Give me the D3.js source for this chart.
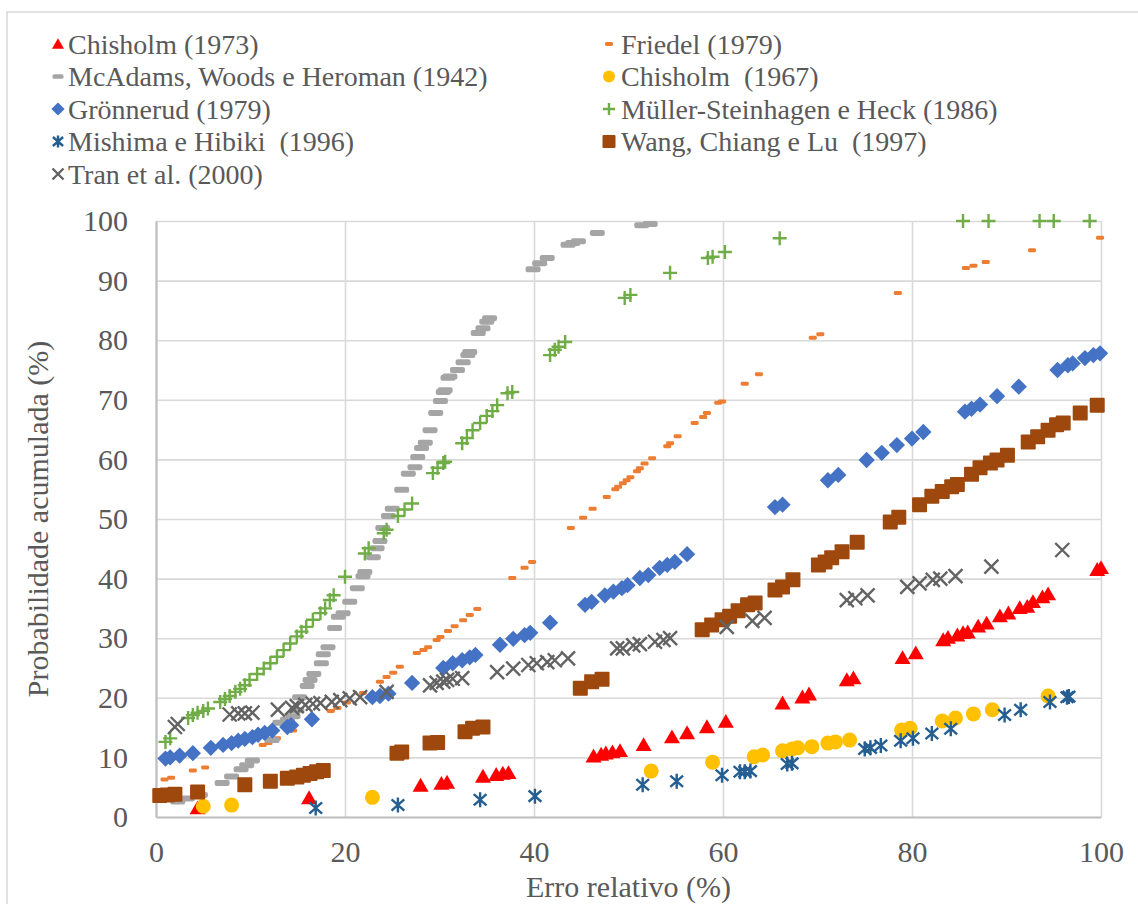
<!DOCTYPE html>
<html>
<head>
<meta charset="utf-8">
<script src="https://cdn.jsdelivr.net/npm/d3@7"></script>
<style>
  body { margin: 0; background: #fff; }
  svg text { font-family: "Liberation Serif", "Times New Roman", serif; fill: #595959; white-space: pre; }
</style>
</head>
<body>
<div id="chart"></div>
<script>
// data: [erro relativo %, probabilidade acumulada %]
const chisholm1973 = [[4.4,1.5],[16.2,3.2],[28.0,5.3],[30.2,5.6],[30.8,5.8],[34.6,6.8],[36.0,7.1],[36.7,7.3],[37.3,7.4],
  [46.3,10.2],[47.1,10.5],[47.6,10.7],[48.3,10.9],[49.1,11.1],[51.6,12.1],[54.6,13.4],[56.2,14.1],[58.3,15.1],[60.3,16.0],
  [66.3,19.1],[68.4,20.1],[69.1,20.6],[73.1,23.0],[73.8,23.3],[79.0,26.7],[80.4,27.5],[83.3,29.7],[83.8,30.1],[84.8,30.5],
  [85.4,30.9],[85.9,31.0],[87.0,32.0],[87.9,32.5],[89.3,33.7],[90.2,34.2],[91.4,35.1],[92.2,35.3],[92.8,36.1],[93.8,36.9],
  [94.4,37.4],[99.6,41.5],[100,41.8]];

const friedel1979 = [[0.9,6.3],[1.6,6.6],[3.9,7.8],[5.2,8.3],[11.3,12.1],[11.9,12.4],[12.8,13.2],[14.5,14.5],[18.5,17.8],
  [19.2,18.3],[20.2,19.2],[21.9,20.8],[23.7,22.7],[24.4,23.5],[25.1,24.2],[25.8,25.2],[27.6,27.5],[28.3,28.0],[28.8,28.5],
  [29.7,29.7],[30.1,30.2],[30.9,31.2],[31.6,32.0],[32.5,33.0],[33.2,33.9],[34.0,34.9],[37.7,40.1],[39.0,41.8],[39.8,42.8],
  [43.9,48.5],[45.2,50.2],[46.2,51.7],[47.7,53.7],[48.6,55.0],[48.9,55.4],[49.4,56.0],[49.8,56.5],[50.2,57.0],[50.9,58.0],
  [51.2,58.5],[51.7,59.3],[52.5,60.2],[54.1,62.2],[54.4,62.7],[55.2,63.9],[57.0,66.1],[57.9,67.1],[58.3,67.8],[59.5,69.5],
  [59.9,69.7],[62.3,72.7],[63.8,74.3],[69.5,80.4],[70.3,81.0],[78.5,87.9],[85.7,92.1],[86.5,92.5],[87.8,93.1],[92.7,95.1],
  [99.9,97.2]];

const mcAdams1942 = [[2.3,2.6],[3.3,3.1],[4.7,3.7],[7.0,5.7],[8.0,6.8],[9.0,8.0],[9.6,8.7],[10.2,9.5],[12.3,12.9],[13.1,15.8],
  [13.9,16.3],[14.5,16.9],[14.9,17.9],[15.2,20.1],[16.0,22.0],[16.3,23.0],[16.7,24.0],[17.5,25.8],[17.7,27.3],[18.2,28.5],
  [18.9,31.7],[19.3,33.6],[19.8,34.2],[20.5,36.1],[21.3,38.4],[21.9,40.4],[22.1,41.1],[23.0,43.6],[23.4,45.1],[23.7,46.3],
  [24.0,48.5],[24.6,50.5],[25.0,51.7],[26.0,54.9],[26.7,57.6],[27.4,58.7],[27.7,60.4],[28.1,61.9],[28.5,62.8],[29.0,64.9],
  [29.6,67.8],[30.1,69.8],[30.4,71.3],[30.6,71.6],[30.9,73.7],[31.1,73.9],[31.9,75.0],[32.5,76.3],[33.0,77.5],[33.2,78.0],
  [34.1,81.2],[34.6,82.0],[35.0,83.1],[35.3,83.7],[39.9,91.9],[40.6,92.9],[41.4,93.8],[43.6,96.0],[44.1,96.3],[44.7,96.6],
  [46.7,98.0],[51.4,99.3],[52.3,99.5]];

const chisholm1967 = [[5.0,1.8],[8.0,2.0],[22.9,3.3],[52.4,7.7],[58.9,9.2],[63.3,10.1],[64.2,10.4],[66.3,11.1],[67.3,11.4],
  [67.9,11.6],[69.4,11.8],[71.1,12.4],[71.9,12.6],[73.4,12.9],[78.9,14.6],[79.8,14.9],[83.2,16.1],[84.6,16.6],[86.5,17.3],
  [88.5,18.0],[94.4,20.3]];

const gronnerud1979 = [[1.0,9.8],[1.5,10.0],[2.5,10.3],[3.9,10.7],[5.8,11.6],[7.1,12.1],[8.0,12.4],[8.7,12.8],[9.4,13.1],
  [10.2,13.4],[10.8,13.8],[11.5,14.1],[12.3,14.5],[13.9,15.1],[14.3,15.4],[16.5,16.4],[22.9,20.1],[23.7,20.3],[24.6,20.7],
  [27.1,22.5],[30.4,25.0],[31.4,25.8],[32.4,26.3],[33.2,26.8],[33.8,27.2],[36.4,28.9],[37.8,29.9],[39.0,30.5],[39.6,30.9],
  [41.7,32.6],[45.4,35.6],[46.1,36.1],[47.5,37.2],[48.4,37.8],[49.3,38.4],[49.9,38.9],[51.2,40.1],[52.1,40.6],[53.3,41.8],
  [54.1,42.3],[54.9,42.8],[56.2,44.1],[65.5,52.0],[66.3,52.4],[71.1,56.5],[72.2,57.4],[75.2,59.9],[76.8,61.1],[78.4,62.4],
  [80.0,63.5],[81.2,64.6],[85.6,68.0],[86.3,68.5],[87.2,69.2],[89.0,70.6],[91.3,72.2],[95.4,75.0],[96.5,75.8],[97.0,76.1],
  [98.3,77.0],[99.2,77.5],[99.9,77.8]];

const mullerSteinhagen1986 = [[1.0,12.6],[1.5,13.2],[3.4,16.6],[3.9,17.1],[4.4,17.5],[5.0,17.8],[5.5,18.2],[6.8,19.3],
  [7.3,19.8],[7.8,20.3],[8.4,21.0],[8.9,21.5],[9.4,22.1],[9.9,23.0],[10.7,24.0],[11.4,24.9],[12.1,25.8],[12.8,26.9],
  [13.5,28.0],[14.2,29.1],[14.9,30.3],[15.4,31.1],[15.9,31.9],[16.6,33.1],[17.4,34.2],[17.9,35.0],[18.4,36.4],[18.8,37.2],
  [20.0,40.3],[22.1,44.2],[22.5,45.1],[24.1,47.6],[24.4,48.2],[25.6,50.5],[26.3,51.6],[27.1,52.6],[29.3,57.7],[29.8,58.6],
  [30.4,59.4],[30.6,59.6],[32.4,62.7],[32.9,63.6],[33.5,64.9],[34.3,66.1],[35.0,67.3],[35.6,68.1],[36.1,69.1],[37.2,71.1],
  [37.7,71.3],[41.7,77.5],[42.2,78.4],[42.6,78.9],[43.3,79.7],[49.6,87.1],[50.2,87.6],[54.4,91.3],[58.4,93.8],[58.9,94.0],
  [60.2,94.8],[66.0,97.1],[85.4,100],[88.1,100],[93.5,100],[95.0,100],[98.8,100]];

const mishimaHibiki1996 = [[16.9,1.5],[25.6,2.0],[34.3,2.9],[40.1,3.5],[51.5,5.4],[55.1,6.0],[59.9,7.0],[61.8,7.6],[62.3,7.6],
  [62.9,7.7],[66.8,8.9],[67.3,9.0],[75.0,11.4],[75.6,11.6],[76.7,12.0],[78.8,12.8],[80.1,13.2],[82.1,14.0],[84.1,14.8],
  [89.8,17.1],[91.5,18.0],[94.6,19.3],[96.4,20.1],[96.6,20.2]];

const wangChiangLu1997 = [[0.4,3.6],[1.2,3.7],[2.0,3.8],[4.4,4.2],[9.4,5.4],[12.1,6.0],[13.9,6.5],[14.9,6.7],[15.6,7.0],
  [16.3,7.3],[17.0,7.6],[17.7,7.8],[25.5,10.7],[26.0,10.9],[29.0,12.4],[29.8,12.5],[32.7,14.3],[33.5,14.9],[34.6,15.1],
  [44.9,21.6],[46.1,22.7],[47.2,23.1],[57.8,31.4],[58.8,32.2],[59.9,33.1],[60.7,33.7],[61.6,34.6],[62.6,35.6],[63.4,35.9],
  [65.5,38.1],[66.3,38.6],[67.4,39.8],[70.1,42.3],[70.8,42.8],[71.5,43.5],[72.6,44.5],[74.2,46.1],[77.7,49.5],[78.6,50.3],
  [80.8,52.4],[82.1,53.8],[83.2,54.6],[84.2,55.4],[84.8,55.8],[86.3,57.5],[87.2,58.6],[88.3,59.4],[89.0,59.9],[90.1,60.7],
  [92.3,62.9],[93.3,63.8],[94.4,64.9],[95.3,65.8],[96.0,66.1],[97.8,67.8],[99.6,69.1]];

const tran2000 = [[2.0,15.1],[2.3,15.6],[7.8,17.2],[8.7,17.4],[9.4,17.4],[10.2,17.5],[12.9,18.0],[14.4,18.3],[14.9,18.6],
  [15.8,18.8],[16.6,19.0],[17.4,19.1],[18.6,19.3],[19.5,19.6],[20.5,19.9],[21.6,20.1],[24.4,21.0],[29.0,22.1],[29.7,22.5],
  [30.4,22.7],[30.8,23.0],[31.4,23.2],[32.4,23.3],[36.1,24.3],[37.8,24.9],[39.4,25.5],[40.3,25.8],[41.4,26.0],[42.2,26.3],
  [43.6,26.6],[48.8,28.3],[49.4,28.3],[50.5,28.8],[51.2,29.0],[52.8,29.4],[53.7,29.7],[54.4,30.0],[60.4,31.9],[63.1,32.9],
  [64.4,33.4],[73.1,36.4],[74.0,36.7],[75.3,37.2],[79.5,38.6],[80.8,39.2],[82.2,39.8],[83.0,40.0],[84.6,40.4],[88.4,42.0],
  [95.9,44.8]];

const seriesNames = ["Chisholm (1973)", "Friedel (1979)", "McAdams, Woods e Heroman (1942)", "Chisholm  (1967)",
  "Grönnerud (1979)", "Müller-Steinhagen e Heck (1986)", "Mishima e Hibiki  (1996)", "Wang, Chiang e Lu  (1997)",
  "Tran et al. (2000)"];
const seriesData = [chisholm1973, friedel1979, mcAdams1942, chisholm1967, gronnerud1979, mullerSteinhagen1986,
  mishimaHibiki1996, wangChiangLu1997, tran2000];
const seriesMarkers = ["triangle", "smallDash", "dash", "circle", "diamond", "plus", "asterisk", "square", "cross"];
const seriesColors = ["#FF0000", "#ED7D31", "#A5A5A5", "#FFC000", "#4472C4", "#70AD47", "#255E91", "#9E480E", "#636363"];

const xTicks = [0, 20, 40, 60, 80, 100];
const yTicks = [0, 10, 20, 30, 40, 50, 60, 70, 80, 90, 100];
const xTitle = "Erro relativo (%)";
const yTitle = "Probabilidade acumulada (%)";

const width = 1138, height = 904;
const plot = { left: 156, right: 1101, top: 221, bottom: 817 };
const fontStack = '"Liberation Serif", "Times New Roman", serif';

const svg = d3.select("#chart").append("svg").attr("width", width).attr("height", height)
  .attr("font-family", fontStack);
svg.append("rect").attr("width", width).attr("height", height).attr("fill", "#fff");

// chart frame (runs past the picture on the right and bottom)
svg.append("rect")
  .attr("x", 7).attr("y", 12).attr("width", 1160).attr("height", 920)
  .attr("fill", "none").attr("stroke", "#D9D9D9").attr("stroke-width", 1.5);

const x = d3.scaleLinear().domain([0, 100]).range([plot.left, plot.right]);
const y = d3.scaleLinear().domain([0, 100]).range([plot.bottom, plot.top]);

// gridlines
svg.append("g")
  .attr("transform", `translate(${plot.left},0)`)
  .call(d3.axisLeft(y).tickValues(yTicks).tickSize(-(plot.right - plot.left)).tickFormat(""))
  .call(g => g.select(".domain").remove())
  .call(g => g.selectAll("line").attr("stroke", "#D9D9D9").attr("stroke-width", 1.6));

svg.append("g")
  .attr("transform", `translate(0,${plot.bottom})`)
  .call(d3.axisBottom(x).tickValues(xTicks).tickSize(-(plot.bottom - plot.top)).tickFormat(""))
  .call(g => g.select(".domain").remove())
  .call(g => g.selectAll("line").attr("stroke", "#D9D9D9").attr("stroke-width", 1.6));

// axis lines + labels
const yAxis = svg.append("g")
  .attr("transform", `translate(${plot.left},0)`)
  .call(d3.axisLeft(y).tickValues(yTicks).tickSize(0).tickPadding(28));
yAxis.attr("font-family", fontStack);
yAxis.select(".domain").attr("stroke", "#BFBFBF").attr("stroke-width", 2.2);
yAxis.selectAll("text").style("font-size", "30px").attr("fill", "#595959");

const xAxis = svg.append("g")
  .attr("transform", `translate(0,${plot.bottom})`)
  .call(d3.axisBottom(x).tickValues(xTicks).tickSize(0).tickPadding(24));
xAxis.attr("font-family", fontStack);
xAxis.select(".domain").attr("stroke", "#BFBFBF").attr("stroke-width", 2.2);
xAxis.selectAll("text").style("font-size", "30px").attr("fill", "#595959");

svg.append("text")
  .attr("x", (plot.left + plot.right) / 2).attr("y", 897)
  .attr("text-anchor", "middle").style("font-size", "30px")
  .text(xTitle);

svg.append("text")
  .attr("transform", `translate(48,${(plot.top + plot.bottom) / 2}) rotate(-90)`)
  .attr("text-anchor", "middle").style("font-size", "30px")
  .text(yTitle);

// marker drawing
function drawMarker(sel, type, color, s) {
  if (type === "triangle") {
    sel.append("path").attr("d", d3.symbol(d3.symbolTriangle, 0.433 * s * s)()).attr("fill", color)
      .attr("transform", `translate(0,${s * 0.1})`);
  } else if (type === "circle") {
    sel.append("circle").attr("r", s / 2).attr("fill", color);
  } else if (type === "square") {
    sel.append("rect").attr("x", -s / 2).attr("y", -s / 2).attr("width", s).attr("height", s)
      .attr("fill", color).attr("rx", 1);
  } else if (type === "diamond") {
    sel.append("rect").attr("x", -s * 0.36).attr("y", -s * 0.36).attr("width", s * 0.72).attr("height", s * 0.72)
      .attr("fill", color).attr("transform", "rotate(45)");
  } else if (type === "dash") {
    sel.append("rect").attr("x", -s / 2).attr("y", -s * 0.2).attr("width", s).attr("height", s * 0.4)
      .attr("rx", s * 0.14).attr("fill", color);
  } else if (type === "smallDash") {
    sel.append("rect").attr("x", -s / 2).attr("y", -s * 0.25).attr("width", s).attr("height", s * 0.5)
      .attr("rx", s * 0.18).attr("fill", color);
  } else {
    const h = s / 2;
    let d;
    if (type === "plus") d = `M${-h},0H${h}M0,${-h}V${h}`;
    else if (type === "cross") d = `M${-h},${-h}L${h},${h}M${-h},${h}L${h},${-h}`;
    else d = `M${-h * 0.85},${-h * 0.75}L${h * 0.85},${h * 0.75}M${-h * 0.85},${h * 0.75}L${h * 0.85},${-h * 0.75}M0,${-h}V${h}`;
    sel.append("path").attr("d", d).attr("stroke", color).attr("stroke-width", 2.4).attr("fill", "none");
  }
}

const markerSize = { triangle: 16, circle: 15, square: 15, diamond: 16, dash: 15, smallDash: 8, plus: 14, cross: 14, asterisk: 15 };
const legendSize = { triangle: 12, circle: 12, square: 13, diamond: 13, dash: 11, smallDash: 8, plus: 12, cross: 11, asterisk: 12 };

const plotArea = svg.append("g");
seriesData.forEach((data, i) => {
  plotArea.append("g").selectAll("g")
    .data(data)
    .join("g")
    .attr("transform", d => `translate(${x(d[0])},${y(d[1])})`)
    .each(function () { drawMarker(d3.select(this), seriesMarkers[i], seriesColors[i], markerSize[seriesMarkers[i]]); });
});

// legend, two columns
const legendCols = [{ mx: 58, tx: 68 }, { mx: 609, tx: 621 }];
const legendRowY = [44, 76.5, 109, 141.5, 174];
const legend = svg.append("g").selectAll("g")
  .data(seriesNames)
  .join("g")
  .attr("transform", (d, i) => `translate(0,${legendRowY[Math.floor(i / 2)]})`);
legend.each(function (name, i) {
  const col = legendCols[i % 2];
  const g = d3.select(this);
  drawMarker(g.append("g").attr("transform", `translate(${col.mx},0)`), seriesMarkers[i], seriesColors[i], legendSize[seriesMarkers[i]]);
  g.append("text").attr("x", col.tx).attr("dy", "0.35em").style("font-size", "28px").text(name);
});
</script>
</body>
</html>
